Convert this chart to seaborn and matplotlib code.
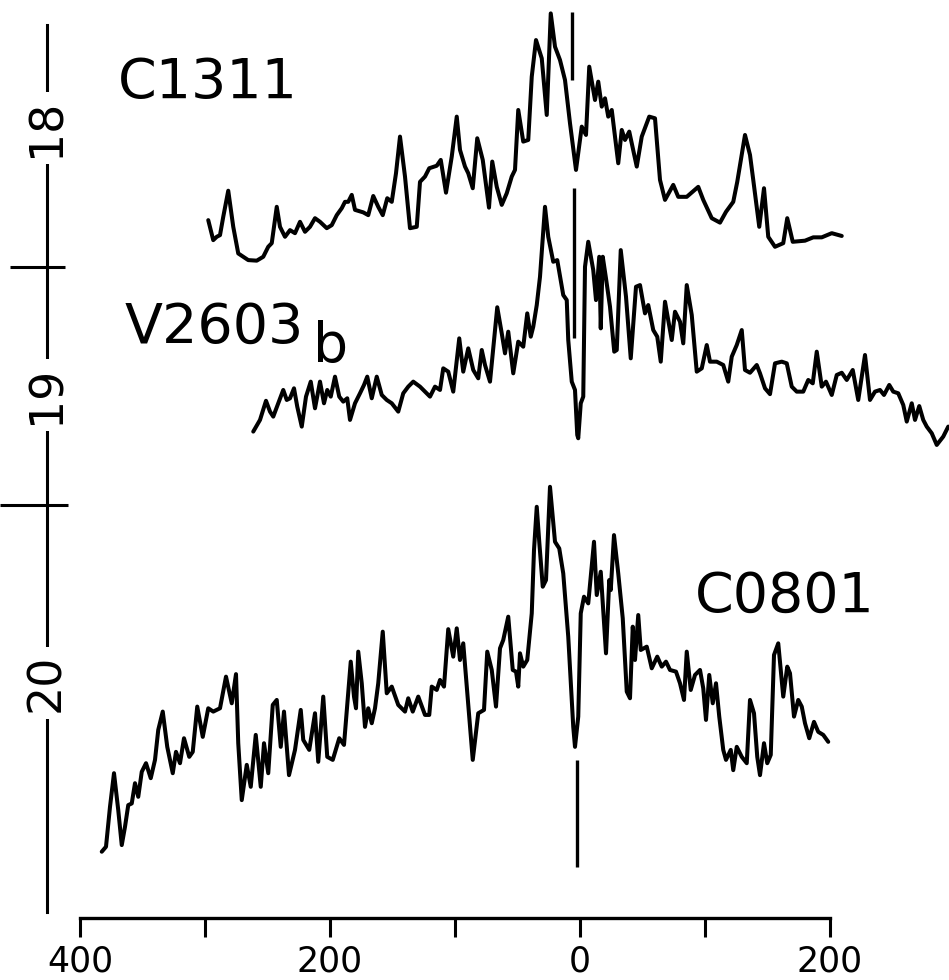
import numpy as np
import pandas as pd
import matplotlib
matplotlib.use("Agg")
import matplotlib.pyplot as plt
import seaborn as sns

# Major-axis surface-brightness profiles: offset from the nucleus (arcsec)
# and surface brightness (mag).
c1311_x = [-297.4, -293.4, -290.6, -288.0, -285.4, -281.4, -277.4, -273.4, -269.4, -265.4,
           -258.6, -253.4, -249.4, -246.6, -242.6, -240.0, -236.0, -232.0, -228.0, -224.0,
           -220.0, -216.0, -212.0, -208.0, -202.6, -198.6, -194.6, -190.6, -188.0, -185.4,
           -182.6, -180.0, -173.4, -169.4, -165.4, -161.4, -157.8, -154.2, -150.6, -147.2,
           -144.0, -140.0, -136.0, -130.6, -128.0, -124.0, -120.6, -114.6, -111.4, -107.2,
           -102.6, -98.6, -96.0, -92.0, -89.4, -85.8, -82.2, -77.8, -72.8, -70.2,
           -66.6, -62.6, -58.6, -54.6, -52.0, -49.4, -45.4, -41.4, -38.6, -35.2,
           -30.6, -26.6, -23.4, -20.0, -16.0, -12.0, -8.0, -3.2, 1.4, 4.8,
           7.4, 12.0, 14.6, 17.4, 20.0, 22.6, 25.4, 30.6, 33.4, 36.0,
           39.4, 45.4, 49.4, 55.4, 60.0, 64.0, 68.0, 74.6, 78.6, 85.4,
           94.6, 98.6, 105.4, 112.0, 116.8, 122.6, 125.8, 132.0, 136.0, 138.6,
           143.4, 147.2, 150.6, 156.0, 162.6, 165.8, 170.2, 180.0, 186.6, 193.4,
           201.4, 209.4]
c1311_mag = [18.332, 18.404, 18.392, 18.386, 18.320, 18.226, 18.356, 18.452, 18.464, 18.476,
             18.478, 18.464, 18.428, 18.415, 18.284, 18.356, 18.392, 18.368, 18.379, 18.338,
             18.374, 18.356, 18.325, 18.338, 18.361, 18.350, 18.314, 18.289, 18.266, 18.266,
             18.241, 18.295, 18.304, 18.314, 18.245, 18.284, 18.314, 18.253, 18.266, 18.163,
             18.031, 18.175, 18.361, 18.356, 18.194, 18.175, 18.145, 18.136, 18.115, 18.233,
             18.103, 17.959, 18.079, 18.139, 18.163, 18.217, 18.037, 18.115, 18.287, 18.121,
             18.212, 18.277, 18.235, 18.175, 18.151, 17.935, 18.049, 18.043, 17.815, 17.683,
             17.749, 17.953, 17.587, 17.707, 17.755, 17.827, 17.983, 18.151, 17.995, 18.025,
             17.779, 17.899, 17.833, 17.923, 17.893, 17.959, 17.935, 18.127, 18.007, 18.043,
             18.013, 18.139, 18.031, 17.959, 17.965, 18.187, 18.259, 18.205, 18.248, 18.248,
             18.212, 18.259, 18.325, 18.341, 18.302, 18.266, 18.194, 18.025, 18.097, 18.187,
             18.356, 18.217, 18.392, 18.428, 18.415, 18.325, 18.410, 18.406, 18.394, 18.394,
             18.379, 18.389]

v2603b_x = [-261.4, -256.0, -251.2, -248.0, -245.4, -241.4, -237.4, -234.6, -232.0, -228.8,
            -226.2, -222.6, -219.2, -215.4, -212.0, -208.0, -204.8, -202.2, -199.4, -196.0,
            -192.6, -189.4, -186.2, -184.0, -180.0, -176.0, -172.8, -170.2, -166.6, -162.6,
            -158.6, -154.6, -150.6, -145.4, -141.4, -137.4, -133.4, -128.0, -124.0, -120.0,
            -116.0, -112.0, -109.4, -105.4, -101.4, -96.6, -93.4, -89.4, -85.4, -81.4,
            -78.6, -76.0, -72.0, -69.4, -66.2, -62.6, -60.0, -57.4, -53.4, -49.4,
            -45.4, -42.2, -39.4, -37.4, -34.6, -32.0, -28.0, -25.4, -21.4, -18.2,
            -13.4, -10.6, -9.4, -6.6, -4.0, -2.2, -1.4, 0.6, 2.6, 4.0,
            6.6, 10.6, 12.8, 15.4, 16.6, 18.2, 20.8, 24.0, 27.4, 29.4,
            32.6, 36.8, 40.6, 44.8, 48.0, 52.0, 54.6, 58.6, 61.8, 64.6,
            68.0, 73.4, 76.0, 80.0, 82.6, 85.4, 89.4, 93.4, 97.4, 101.4,
            104.0, 109.4, 114.6, 118.6, 121.4, 125.4, 129.4, 132.0, 136.0, 141.4,
            144.0, 148.0, 152.0, 156.0, 161.4, 165.4, 169.4, 173.4, 178.6, 182.6,
            186.2, 189.4, 193.4, 196.8, 201.4, 205.4, 209.4, 213.4, 218.2, 222.6,
            228.0, 232.0, 236.0, 240.0, 243.2, 247.4, 250.6, 254.6, 258.6, 261.4,
            265.4, 268.0, 271.4, 274.6, 277.4, 281.4, 285.4, 290.6, 294.6]
v2603b_mag = [19.094, 19.052, 18.983, 19.022, 19.040, 18.992, 18.944, 18.980, 18.974, 18.938,
              19.004, 19.076, 18.968, 18.914, 19.010, 18.914, 18.992, 18.944, 18.968, 18.896,
              18.968, 18.986, 18.974, 19.052, 18.992, 18.956, 18.926, 18.896, 18.974, 18.896,
              18.962, 18.980, 18.992, 19.022, 18.956, 18.932, 18.914, 18.932, 18.950, 18.968,
              18.932, 18.944, 18.866, 18.878, 18.950, 18.758, 18.878, 18.794, 18.872, 18.902,
              18.800, 18.854, 18.914, 18.794, 18.646, 18.740, 18.812, 18.734, 18.884, 18.770,
              18.788, 18.668, 18.752, 18.716, 18.638, 18.536, 18.284, 18.392, 18.482, 18.476,
              18.602, 18.620, 18.764, 18.914, 18.944, 19.106, 19.118, 18.992, 18.968, 18.500,
              18.410, 18.512, 18.620, 18.464, 18.722, 18.464, 18.542, 18.644, 18.806, 18.800,
              18.440, 18.608, 18.830, 18.572, 18.566, 18.668, 18.638, 18.728, 18.752, 18.842,
              18.626, 18.764, 18.662, 18.698, 18.776, 18.566, 18.674, 18.878, 18.866, 18.782,
              18.842, 18.842, 18.854, 18.914, 18.824, 18.782, 18.728, 18.872, 18.882, 18.854,
              18.884, 18.938, 18.959, 18.848, 18.842, 18.848, 18.932, 18.950, 18.950, 18.908,
              18.920, 18.806, 18.932, 18.914, 18.962, 18.890, 18.882, 18.908, 18.872, 18.980,
              18.818, 18.980, 18.950, 18.944, 18.962, 18.926, 18.950, 18.956, 18.998, 19.058,
              18.992, 19.052, 19.002, 19.052, 19.076, 19.100, 19.142, 19.112, 19.076]

c0801_x = [-382.6, -379.2, -376.0, -372.8, -369.4, -366.6, -364.0, -361.4, -358.6, -356.0,
           -353.4, -350.6, -347.2, -343.4, -340.0, -337.4, -333.8, -330.2, -325.8, -323.2,
           -320.0, -316.8, -312.6, -309.8, -306.2, -301.8, -297.4, -293.4, -288.0, -283.2,
           -278.6, -275.2, -273.4, -270.6, -266.6, -263.4, -259.4, -255.4, -252.8, -249.4,
           -245.8, -242.6, -239.4, -236.8, -232.8, -228.0, -223.4, -221.4, -216.6, -212.0,
           -209.4, -205.4, -202.2, -197.8, -192.6, -188.8, -183.4, -180.8, -179.2, -177.4,
           -174.6, -172.0, -169.4, -166.6, -164.0, -161.4, -157.8, -154.6, -150.6, -145.4,
           -140.0, -137.4, -133.8, -129.4, -124.0, -120.6, -118.6, -114.6, -112.0, -108.8,
           -105.4, -101.4, -98.6, -96.0, -93.4, -90.6, -85.8, -81.4, -76.8, -74.2,
           -70.6, -67.2, -64.0, -61.4, -57.4, -53.8, -51.2, -49.4, -48.0, -45.4,
           -42.2, -38.6, -36.8, -34.6, -32.6, -29.8, -27.2, -24.0, -20.0, -16.6,
           -13.4, -9.4, -5.4, -4.0, -1.4, 0.6, 3.2, 6.6, 11.2, 13.4,
           16.6, 20.8, 23.4, 24.6, 27.2, 30.6, 34.2, 37.4, 40.0, 42.2,
           44.0, 46.6, 48.6, 53.4, 57.4, 61.8, 65.4, 68.8, 72.0, 76.8,
           80.0, 83.2, 85.4, 88.6, 92.0, 96.0, 98.6, 100.8, 103.4, 106.2,
           108.8, 111.4, 114.6, 116.8, 120.6, 122.6, 125.4, 129.4, 133.4, 136.0,
           139.2, 141.8, 144.0, 147.2, 149.8, 152.6, 155.2, 158.6, 162.6, 165.8,
           168.0, 171.2, 174.6, 177.4, 180.0, 183.4, 187.2, 190.6, 194.6, 198.6]
c0801_mag = [20.608, 20.590, 20.446, 20.325, 20.458, 20.584, 20.518, 20.440, 20.434, 20.361,
             20.410, 20.320, 20.289, 20.343, 20.277, 20.169, 20.103, 20.230, 20.325, 20.248,
             20.289, 20.199, 20.266, 20.248, 20.085, 20.194, 20.091, 20.103, 20.091, 19.977,
             20.073, 19.968, 20.217, 20.422, 20.295, 20.374, 20.187, 20.374, 20.217, 20.325,
             20.079, 20.061, 20.230, 20.103, 20.332, 20.241, 20.097, 20.205, 20.241, 20.109,
             20.284, 20.049, 20.266, 20.277, 20.199, 20.223, 19.923, 20.049, 20.091, 19.887,
             20.001, 20.158, 20.091, 20.145, 20.091, 20.001, 19.815, 20.037, 20.013, 20.079,
             20.103, 20.055, 20.103, 20.049, 20.115, 20.115, 20.013, 20.025, 19.989, 20.013,
             19.806, 19.905, 19.803, 19.917, 19.857, 20.013, 20.277, 20.109, 20.097, 19.887,
             19.953, 20.085, 19.875, 19.845, 19.761, 19.953, 19.959, 20.013, 19.893, 19.941,
             19.917, 19.749, 19.521, 19.365, 19.491, 19.653, 19.629, 19.293, 19.491, 19.515,
             19.605, 19.833, 20.158, 20.230, 20.121, 19.749, 19.689, 19.713, 19.491, 19.683,
             19.599, 19.893, 19.629, 19.665, 19.467, 19.605, 19.767, 20.031, 20.055, 19.797,
             19.917, 19.755, 19.881, 19.869, 19.947, 19.905, 19.941, 19.923, 19.953, 19.959,
             20.001, 20.061, 19.887, 20.025, 19.971, 19.953, 20.019, 20.133, 19.971, 20.073,
             20.001, 20.121, 20.241, 20.277, 20.241, 20.314, 20.230, 20.266, 20.289, 20.061,
             20.109, 20.266, 20.332, 20.217, 20.289, 20.259, 19.899, 19.857, 20.049, 19.941,
             19.965, 20.121, 20.061, 20.085, 20.145, 20.199, 20.140, 20.176, 20.187, 20.212]

# Nucleus markers drawn through each profile
nucleus_x = [-6.6, -5.0, -2.6]
nucleus_top = [17.581, 18.216, 20.277]
nucleus_bottom = [17.827, 18.757, 20.663]

# Axis labelling
x_ticks = [-400, -300, -200, -100, 0, 100, 200]
x_tick_labels = ["400", "", "200", "", "0", "", "200"]
mag_labels = ["18", "19", "20"]

profiles = pd.concat([
    pd.DataFrame({"offset": c1311_x, "mag": c1311_mag, "galaxy": "C1311"}),
    pd.DataFrame({"offset": v2603b_x, "mag": v2603b_mag, "galaxy": "V2603b"}),
    pd.DataFrame({"offset": c0801_x, "mag": c0801_mag, "galaxy": "C0801"}),
], ignore_index=True)

sns.set_theme(style="white")
plt.rcParams["font.family"] = ["DejaVu Sans"]

fig = plt.figure(figsize=(9.49, 9.80), dpi=100)
ax = fig.add_axes([47 / 949, 62 / 980, 902 / 949, 918 / 980])

sns.lineplot(data=profiles, x="offset", y="mag", units="galaxy", estimator=None,
             sort=False, color="black", linewidth=2.9, legend=False, ax=ax,
             solid_joinstyle="round", solid_capstyle="round")
ax.vlines(nucleus_x, nucleus_top, nucleus_bottom, color="black", linewidth=2.4)

ax.set_xlim(-426.4, 295.2)
ax.set_ylim(20.8468, 17.5387)
ax.set_xlabel("")
ax.set_ylabel("")

# bottom scale bar
for side in ("top", "right"):
    ax.spines[side].set_visible(False)
ax.spines["bottom"].set_bounds(-400, 200)
ax.spines["bottom"].set_linewidth(2.4)
ax.spines["bottom"].set_color("black")
ax.set_xticks(x_ticks)
ax.set_xticklabels(x_tick_labels)
ax.tick_params(axis="x", bottom=True, direction="out", length=14, width=2.2,
               pad=5, labelsize=25, colors="black")

# magnitude scale on the left: a broken line with rotated labels
ax.spines["left"].set_bounds(17.629, 20.825)
ax.spines["left"].set_linewidth(2.2)
ax.spines["left"].set_color("black")
ax.set_yticks([])
ytrans = ax.get_yaxis_transform()
for label, pos in zip(mag_labels, [18.0, 18.962, 20.0]):
    ax.text(0, pos, label, transform=ytrans, rotation=90, ha="center", va="center",
            fontsize=33, color="black", zorder=5,
            bbox=dict(facecolor="white", edgecolor="none", pad=5))
ax.hlines([18.50, 19.36], [-0.041, -0.052], [0.020, 0.023], transform=ytrans,
          color="black", linewidth=2.2, clip_on=False)

# profile names
ax.text(-297.6, 17.892, "C1311", fontsize=40, ha="center", va="baseline", color="black")
ax.text(-364.0, 18.775, "V2603", fontsize=40, ha="left", va="baseline", color="black")
ax.text(-213.6, 18.843, "b", fontsize=40, ha="left", va="baseline", color="black")
ax.text(164.0, 19.744, "C0801", fontsize=40, ha="center", va="baseline", color="black")

fig.savefig("out.png", dpi=100, facecolor="white")
